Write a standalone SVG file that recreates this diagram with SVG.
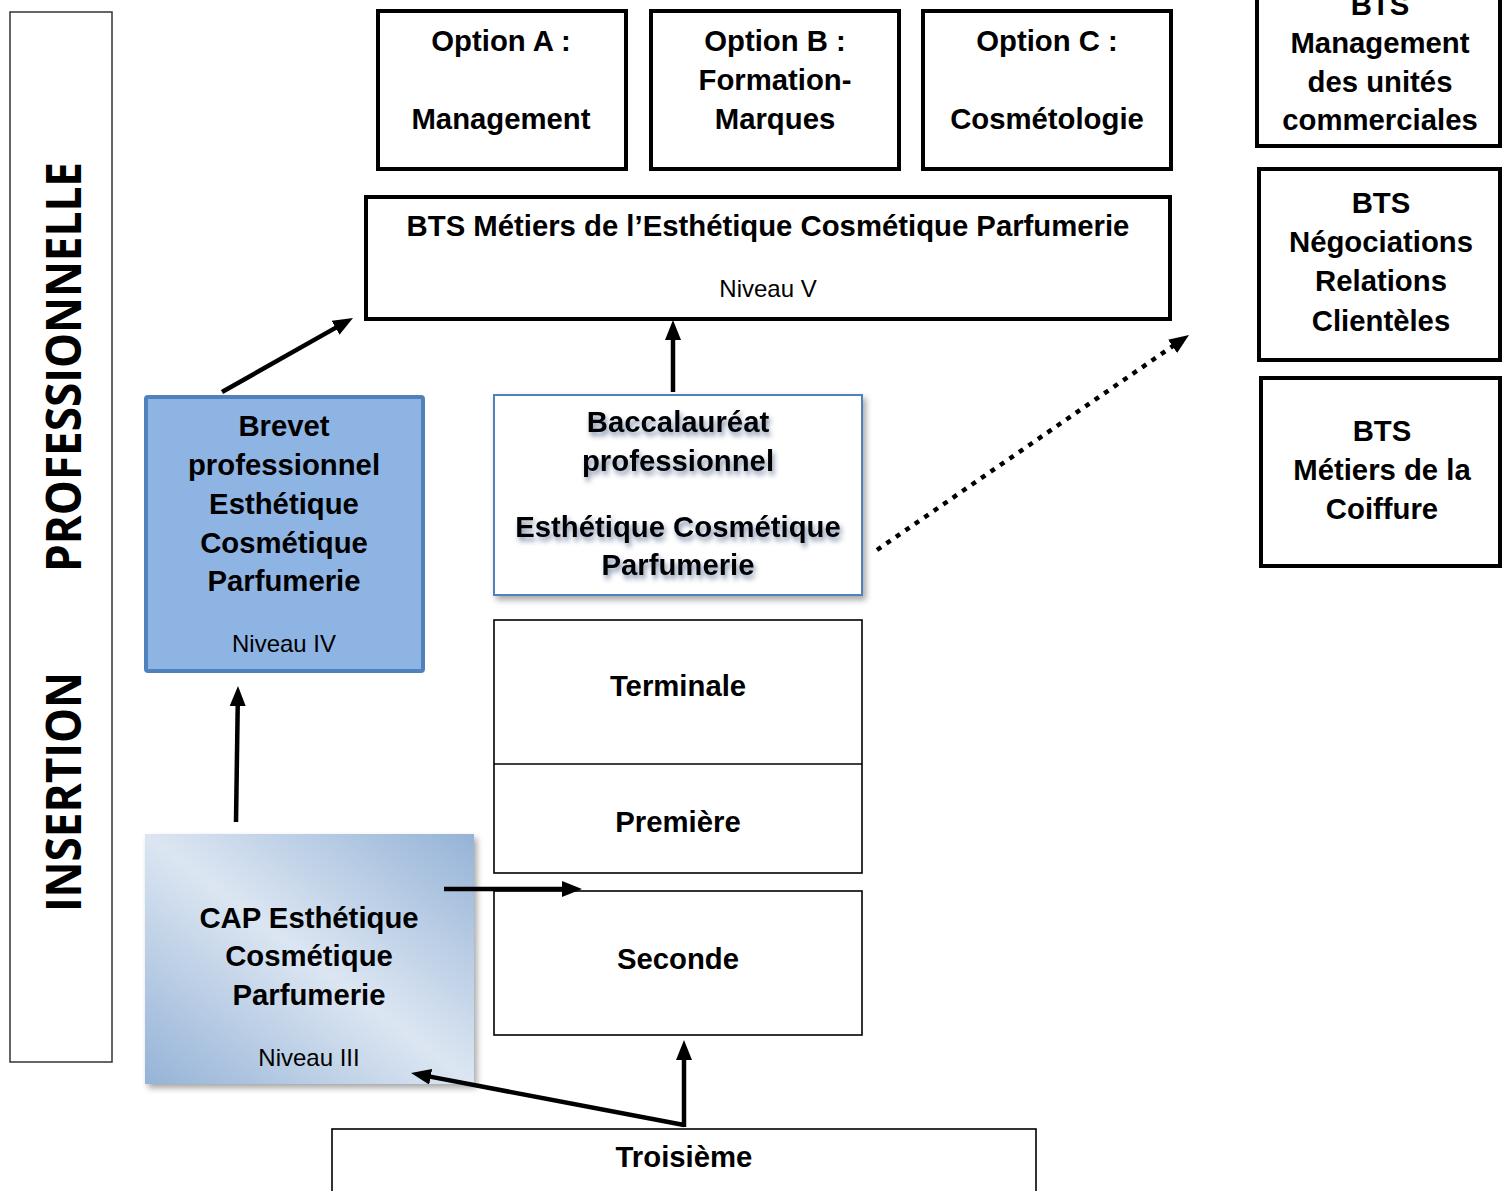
<svg xmlns="http://www.w3.org/2000/svg" width="1502" height="1191" viewBox="0 0 1502 1191">
<defs>
<style>
.t{font-family:"Liberation Sans",Arial,sans-serif;font-weight:bold;font-size:29.3px;fill:#000;text-anchor:middle}
.n{font-family:"Liberation Sans",Arial,sans-serif;font-size:24px;fill:#000;text-anchor:middle}
.box{fill:#fff;stroke:#000;stroke-width:4}
.thin{fill:#fff;stroke:#000;stroke-width:1.6}
.arr{stroke:#000;stroke-width:4.5;fill:none;marker-end:url(#ah)}
.side{font-family:"Open Sans","Liberation Sans",sans-serif;font-weight:bold;font-size:48px;fill:#000}
</style>
<marker id="ah" markerUnits="userSpaceOnUse" markerWidth="20" markerHeight="16" viewBox="0 0 10 8" refX="3" refY="4" orient="auto">
<path d="M0,0 L10,4 L0,8 z" fill="#000"/>
</marker>
<linearGradient id="capg" x1="1" y1="0" x2="0" y2="1">
<stop offset="0" stop-color="#95b3d7"/>
<stop offset="0.5" stop-color="#dce6f2"/>
<stop offset="1" stop-color="#95b3d7"/>
</linearGradient>
<filter id="sh" x="-10%" y="-10%" width="125%" height="125%">
<feDropShadow dx="3" dy="4" stdDeviation="3" flood-color="#000" flood-opacity="0.35"/>
</filter>
<filter id="tsh" x="-10%" y="-30%" width="120%" height="170%">
<feDropShadow dx="2" dy="4" stdDeviation="2.5" flood-color="#1f3a66" flood-opacity="0.55"/>
</filter>
</defs>

<g id="side-label">
<rect x="10" y="12" width="102" height="1050" fill="#fff" stroke="#333" stroke-width="1.5"/>
<text class="side" transform="translate(81,912) rotate(-90)" textLength="240" lengthAdjust="spacingAndGlyphs">INSERTION</text>
<text class="side" transform="translate(81,572) rotate(-90)" textLength="410" lengthAdjust="spacingAndGlyphs">PROFESSIONNELLE</text>
</g>

<g id="option-a">
<rect class="box" x="378" y="11" width="248" height="158"/>
<text class="t" x="501" y="51">Option A :</text>
<text class="t" x="501" y="129">Management</text>
</g>
<g id="option-b">
<rect class="box" x="651" y="11" width="248" height="158"/>
<text class="t" x="775" y="51">Option B :</text>
<text class="t" x="775" y="90">Formation-</text>
<text class="t" x="775" y="129">Marques</text>
</g>
<g id="option-c">
<rect class="box" x="923" y="11" width="248" height="158"/>
<text class="t" x="1047" y="51">Option C :</text>
<text class="t" x="1047" y="129">Cosmétologie</text>
</g>

<g id="bts-mecp">
<rect class="box" x="366" y="197" width="804" height="122"/>
<text class="t" x="768" y="236">BTS Métiers de l’Esthétique Cosmétique Parfumerie</text>
<text class="n" x="768" y="297">Niveau V</text>
</g>

<g id="bts-muc">
<rect class="box" x="1257" y="-6" width="243" height="152"/>
<text class="t" x="1380" y="15">BTS</text>
<text class="t" x="1380" y="53">Management</text>
<text class="t" x="1380" y="92">des unités</text>
<text class="t" x="1380" y="130">commerciales</text>
</g>
<g id="bts-nrc">
<rect class="box" x="1259" y="169" width="241" height="191"/>
<text class="t" x="1381" y="213">BTS</text>
<text class="t" x="1381" y="252">Négociations</text>
<text class="t" x="1381" y="291">Relations</text>
<text class="t" x="1381" y="331">Clientèles</text>
</g>
<g id="bts-coiffure">
<rect class="box" x="1261" y="378" width="239" height="188"/>
<text class="t" x="1382" y="441">BTS</text>
<text class="t" x="1382" y="480">Métiers de la</text>
<text class="t" x="1382" y="519">Coiffure</text>
</g>

<g id="brevet">
<rect x="146" y="397" width="277" height="274" rx="2" fill="#8eb4e3" stroke="#4f81bd" stroke-width="4"/>
<text class="t" x="284" y="436">Brevet</text>
<text class="t" x="284" y="475">professionnel</text>
<text class="t" x="284" y="514">Esthétique</text>
<text class="t" x="284" y="553">Cosmétique</text>
<text class="t" x="284" y="591">Parfumerie</text>
<text class="n" x="284" y="652">Niveau IV</text>
</g>

<g id="bac-pro">
<rect x="494" y="395" width="368" height="200" fill="#fff" stroke="#4f81bd" stroke-width="2" filter="url(#sh)"/>
<g filter="url(#tsh)">
<text class="t" x="678" y="432">Baccalauréat</text>
<text class="t" x="678" y="471">professionnel</text>
<text class="t" x="678" y="537">Esthétique Cosmétique</text>
<text class="t" x="678" y="575">Parfumerie</text>
</g>
</g>

<g id="terminale-premiere">
<rect class="thin" x="494" y="620" width="368" height="253"/>
<line x1="494" y1="764" x2="862" y2="764" stroke="#000" stroke-width="1.6"/>
<text class="t" x="678" y="696">Terminale</text>
<text class="t" x="678" y="832">Première</text>
</g>

<g id="seconde">
<rect class="thin" x="494" y="891" width="368" height="144"/>
<text class="t" x="678" y="969">Seconde</text>
</g>

<g id="cap">
<rect x="145" y="834" width="329" height="250" fill="url(#capg)" filter="url(#sh)"/>
<text class="t" x="309" y="928">CAP Esthétique</text>
<text class="t" x="309" y="966">Cosmétique</text>
<text class="t" x="309" y="1005">Parfumerie</text>
<text class="n" x="309" y="1066">Niveau III</text>
</g>

<g id="troisieme">
<rect class="thin" x="332" y="1129" width="704" height="70"/>
<text class="t" x="684" y="1167">Troisième</text>
</g>

<g id="connectors">
<line class="arr" x1="222" y1="392" x2="340.8" y2="324.9"/>
<line class="arr" x1="673" y1="392" x2="673" y2="334"/>
<line class="arr" x1="877" y1="550" x2="1177.5" y2="342.9" stroke-dasharray="5 6.5" stroke-width="6"/>
<line class="arr" x1="236" y1="822" x2="237.8" y2="700"/>
<line class="arr" x1="444" y1="889" x2="568" y2="889"/>
<line class="arr" x1="684" y1="1125" x2="424.8" y2="1075.6"/>
<line class="arr" x1="684" y1="1127" x2="684" y2="1054"/>
</g>
</svg>
